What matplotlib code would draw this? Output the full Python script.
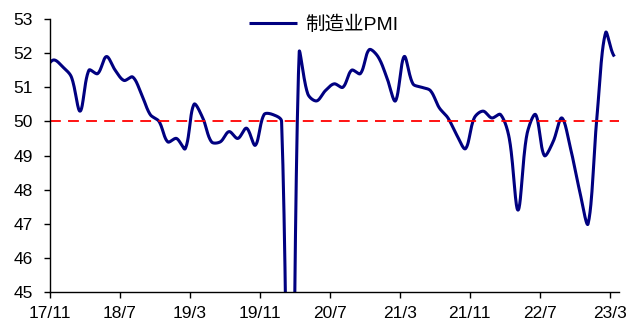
import numpy as np
import pandas as pd
import matplotlib
matplotlib.use("Agg")
import matplotlib.pyplot as plt

# ---- data ----
months = pd.period_range("2017-10", "2023-03", freq="M").strftime("%y/%m").tolist()
pmi = [51.6,
       51.8, 51.6, 51.3, 50.3, 51.5, 51.4, 51.9, 51.5, 51.2, 51.3, 50.8, 50.2,
       50.0, 49.4, 49.5, 49.2, 50.5, 50.1, 49.4, 49.4, 49.7, 49.5, 49.8, 49.3,
       50.2, 50.2, 50.0, 35.7, 52.0, 50.8, 50.6, 50.9, 51.1, 51.0, 51.5, 51.4,
       52.1, 51.9, 51.3, 50.6, 51.9, 51.1, 51.0, 50.9, 50.4, 50.1, 49.6, 49.2,
       50.1, 50.3, 50.1, 50.2, 49.5, 47.4, 49.6, 50.2, 49.0, 49.4, 50.1, 49.2,
       48.0, 47.0, 50.1, 52.6, 51.9]
tick_labels = ["17/11", "18/7", "19/3", "19/11", "20/7", "21/3", "21/11", "22/7", "23/3"]
ref_level = 50
series_name = "制造业PMI"

plt.rcParams['font.family'] = ['Liberation Sans', 'Noto Sans CJK SC', 'DejaVu Sans']

# category positions: first point (2017-10) sits at -1, 2017-11 at 0
x = np.arange(len(pmi)) - 1.0
y = np.array(pmi, dtype=float)

# pixel scale factors (for display-space distances in the smoothing)
SX, SY = 8.75, 34.1

# Excel-like smoothed line: cubic Bezier with chord-length-scaled tangents
def smooth(xs, ys, n=24):
    px = np.concatenate([[2 * xs[0] - xs[1]], xs, [2 * xs[-1] - xs[-2]]])
    py = np.concatenate([[ys[0]], ys, [ys[-1]]])
    d = np.hypot(np.diff(px) * SX, np.diff(py) * SY)
    outx, outy = [], []
    t = np.linspace(0, 1, n, endpoint=False)
    for i in range(1, len(px) - 2):
        p0x, p1x, p2x, p3x = px[i - 1], px[i], px[i + 1], px[i + 2]
        p0y, p1y, p2y, p3y = py[i - 1], py[i], py[i + 1], py[i + 2]
        d01, d12, d23 = d[i - 1], d[i], d[i + 1]
        f1 = d12 / (3 * (d01 + d12))
        f2 = d12 / (3 * (d12 + d23))
        c1x = p1x + (p2x - p0x) * f1
        c1y = p1y + (p2y - p0y) * f1
        c2x = p2x - (p3x - p1x) * f2
        c2y = p2y - (p3y - p1y) * f2
        bx = (1 - t) ** 3 * p1x + 3 * (1 - t) ** 2 * t * c1x + 3 * (1 - t) * t ** 2 * c2x + t ** 3 * p2x
        by = (1 - t) ** 3 * p1y + 3 * (1 - t) ** 2 * t * c1y + 3 * (1 - t) * t ** 2 * c2y + t ** 3 * p2y
        outx.extend(bx)
        outy.extend(by)
    outx.append(xs[-1])
    outy.append(ys[-1])
    return np.array(outx), np.array(outy)

sx, sy = smooth(x, y)

fig = plt.figure(figsize=(6.36, 3.22), dpi=100)
ax = fig.add_axes([49.5 / 636, 30 / 322, (618.75 - 49.5) / 636, 273 / 322])

line, = ax.plot(sx, sy, color="#000080", lw=2.2, label=series_name, solid_capstyle="butt")
ax.axhline(ref_level, color="#FF0000", lw=1.3, dashes=(6, 4))

ax.set_xlim(-0.5, len(pmi) - 1.5)
ax.set_ylim(45, 53)
ax.set_yticks(np.arange(45, 54, 1))
ax.set_xticks(np.arange(len(tick_labels)) * 8 - 0.5)
ax.set_xticklabels(tick_labels)

for s in ["top", "right"]:
    ax.spines[s].set_visible(False)
for s in ["left", "bottom"]:
    ax.spines[s].set_linewidth(1.0)
    ax.spines[s].set_color("black")

ax.tick_params(axis="both", direction="out", length=4, width=1.0, labelsize=12.5, colors="black")
ax.tick_params(axis="y", pad=8)
ax.tick_params(axis="x", pad=6)

leg = fig.legend(handles=[line], loc="center", bbox_to_anchor=(323.5 / 636, 1 - 25 / 322),
                 frameon=False, fontsize=14, handlelength=2.5, handletextpad=0.4)

fig.savefig("out.png", dpi=100)
